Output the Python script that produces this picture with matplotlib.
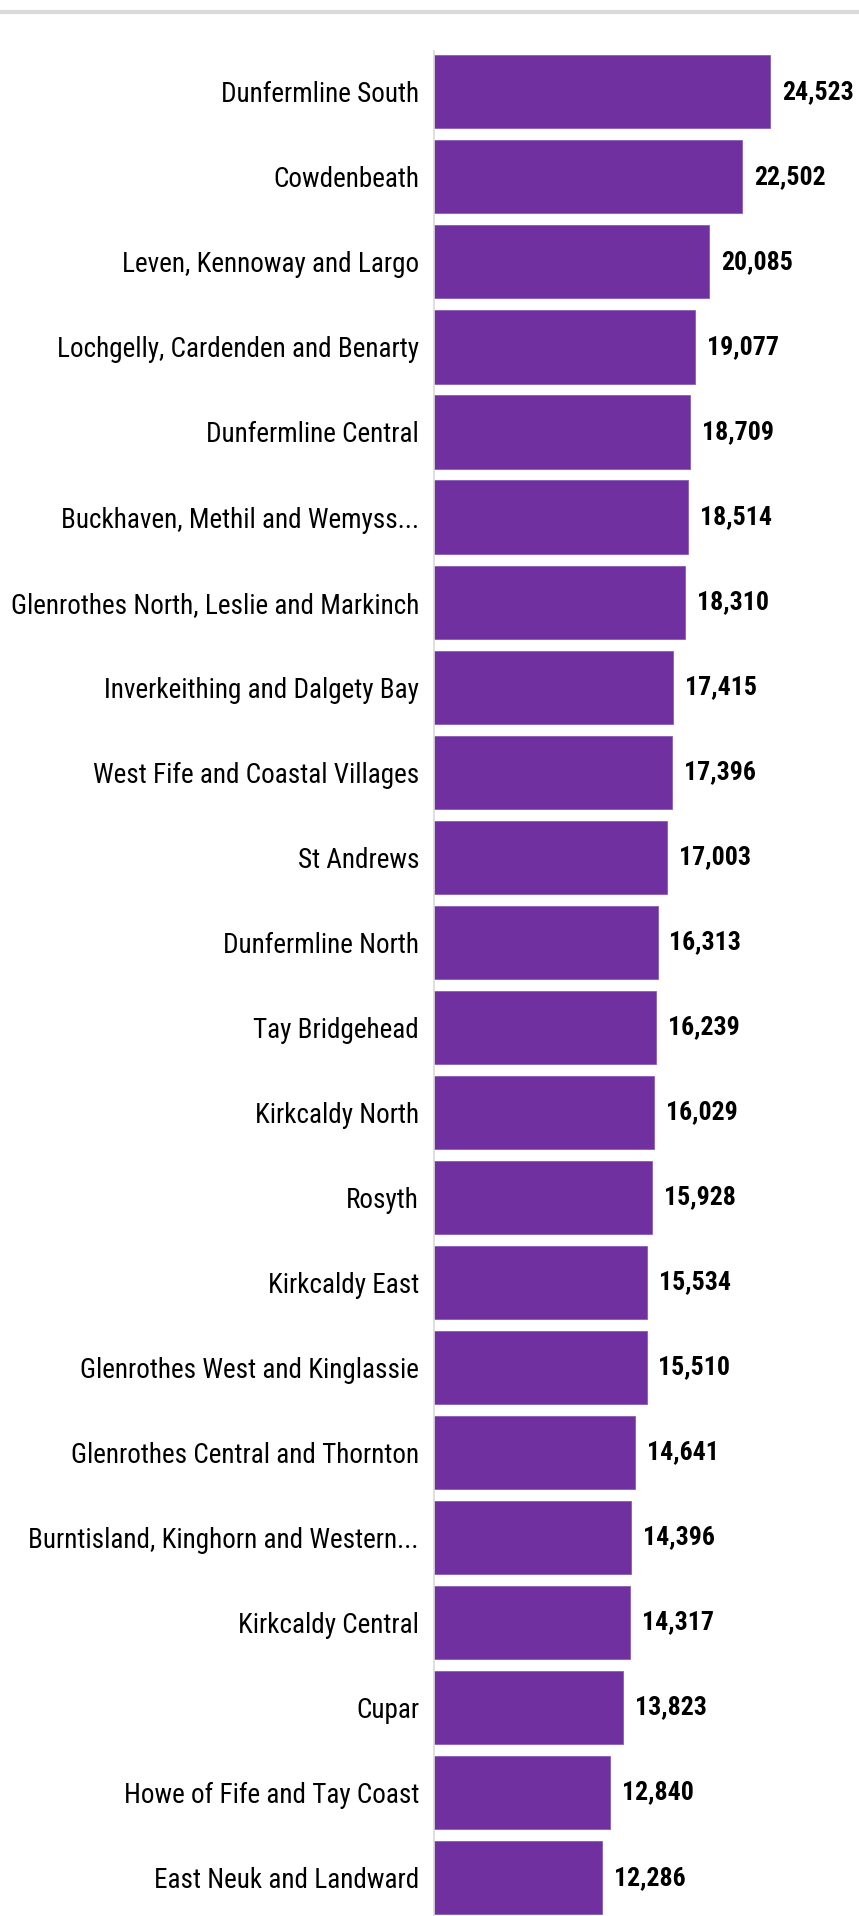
import matplotlib
matplotlib.use("Agg")
import matplotlib.pyplot as plt
from matplotlib import font_manager
from matplotlib.lines import Line2D

# Wards and values, top to bottom
wards = ["Dunfermline South", "Cowdenbeath", "Leven, Kennoway and Largo",
         "Lochgelly, Cardenden and Benarty", "Dunfermline Central",
         "Buckhaven, Methil and Wemyss...", "Glenrothes North, Leslie and Markinch",
         "Inverkeithing and Dalgety Bay", "West Fife and Coastal Villages",
         "St Andrews", "Dunfermline North", "Tay Bridgehead", "Kirkcaldy North",
         "Rosyth", "Kirkcaldy East", "Glenrothes West and Kinglassie",
         "Glenrothes Central and Thornton", "Burntisland, Kinghorn and Western...",
         "Kirkcaldy Central", "Cupar", "Howe of Fife and Tay Coast",
         "East Neuk and Landward"]
values = [24523, 22502, 20085, 19077, 18709, 18514, 18310, 17415, 17396, 17003,
          16313, 16239, 16029, 15928, 15534, 15510, 14641, 14396, 14317, 13823,
          12840, 12286]

names = {f.name for f in font_manager.fontManager.ttflist}
FONT = "Roboto Condensed" if "Roboto Condensed" in names else "Liberation Sans"
PURPLE = "#7030A0"

W, H, DPI = 859, 1916, 100
fig = plt.figure(figsize=(W / DPI, H / DPI), dpi=DPI)
rend = fig.canvas.get_renderer()


def fit_size(s, target_px, weight="normal"):
    # font size that makes text s about target_px wide
    t = fig.text(0, 0, s, fontsize=20, family=FONT, fontweight=weight)
    w = t.get_window_extent(rend).width
    t.remove()
    return 20 * target_px / w


LBL_SIZE = fit_size("Glenrothes North, Leslie and Markinch", 407)
NUM_SIZE = fit_size("24,523", 72, "bold")

ax = fig.add_axes([434 / W, 0, (W - 434) / W, (H - 51) / H])

y = list(range(len(wards)))
bars = ax.barh(y, values, height=0.86, color=PURPLE, edgecolor="#8a5cb8", linewidth=0.6)
ax.set_xlim(0, 31020)
ax.set_ylim(21.45, -0.48)

ax.set_yticks(y)
ax.set_yticklabels(wards, fontfamily=FONT, fontsize=LBL_SIZE, color="black")
ax.tick_params(axis="y", length=0, pad=10.8)
ax.set_xticks([])
for s in ["top", "right", "bottom"]:
    ax.spines[s].set_visible(False)
ax.spines["left"].set_color("#d9d9d9")
ax.spines["left"].set_linewidth(1.2)

for b, v in zip(bars, values):
    ax.annotate(f"{v:,}", (v, b.get_y() + b.get_height() / 2),
                xytext=(8.6, 0), textcoords="offset points",
                ha="left", va="center", fontfamily=FONT, fontsize=NUM_SIZE,
                fontweight="bold", color="black", annotation_clip=False)

# thin grey rule across the top
fig.add_artist(Line2D([0, 1], [1 - 11.5 / H, 1 - 11.5 / H], transform=fig.transFigure,
                      color="#d9d9d9", linewidth=3))

fig.savefig("out.png", dpi=DPI)
